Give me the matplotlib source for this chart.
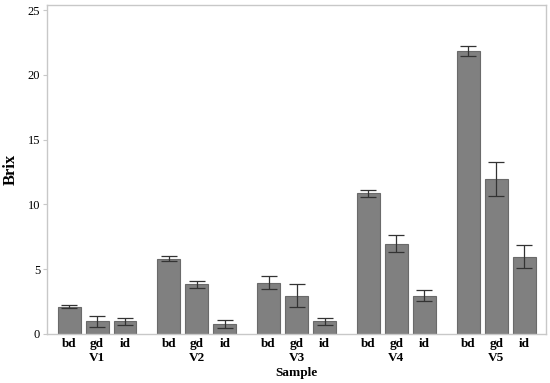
import numpy as np
import matplotlib

matplotlib.use("Agg")
import matplotlib.pyplot as plt

groups = ["V1", "V2", "V3", "V4", "V5"]
treatments = ["bd", "gd", "id"]
brix = [
    [2.12, 0.97, 0.97],
    [5.82, 3.85, 0.77],
    [3.97, 2.97, 0.97],
    [10.85, 6.97, 2.97],
    [21.85, 11.97, 5.97],
]
brix_err = [
    [0.08, 0.42, 0.26],
    [0.18, 0.27, 0.28],
    [0.50, 0.88, 0.24],
    [0.30, 0.65, 0.44],
    [0.42, 1.33, 0.90],
]

serif = ["Liberation Serif", "DejaVu Serif"]
plt.rcParams["font.family"] = serif

fig = plt.figure(figsize=(5.5, 3.83), dpi=100)
ax = fig.add_axes([0.0855, 0.128, 0.9075, 0.859])

step = 3.57
pos, vals, errs, labels = [], [], [], []
for g, (v, e) in enumerate(zip(brix, brix_err)):
    for t in range(3):
        pos.append(g * step + t)
        vals.append(v[t])
        errs.append(e[t])
        labels.append(treatments[t])
pos = np.array(pos)

ax.bar(pos, vals, width=0.82, color="#808080", edgecolor="#6a6a6a",
       linewidth=0.8, zorder=2)
ax.errorbar(pos, vals, yerr=errs, fmt="none", ecolor="#333333",
            elinewidth=0.9, capsize=5.5, capthick=0.9, zorder=3)

ax.set_xlim(pos[0] - 0.79, pos[-1] + 0.79)
ax.set_ylim(0, 25.4)
ax.set_yticks([0, 5, 10, 15, 20, 25])
ax.tick_params(axis="y", labelsize=9, length=3, color="#c8c8c8", pad=2)
ax.set_xticks(pos)
ax.set_xticklabels(labels, fontsize=9.5, fontweight="bold")
ax.tick_params(axis="x", length=0, pad=3)

# group names and axis title below the tick labels
for g, name in enumerate(groups):
    ax.text(g * step + 1, -0.056, name, transform=ax.get_xaxis_transform(),
            ha="center", va="top", fontsize=9.5, fontweight="bold")
ax.text(pos.mean(), -0.099, "Sample", transform=ax.get_xaxis_transform(),
        ha="center", va="top", fontsize=9.5, fontweight="bold")
ax.set_ylabel("Brix", fontsize=12, fontweight="bold", va="center")
ax.yaxis.set_label_coords(-0.073, 0.5)

for s in ax.spines.values():
    s.set_color("#c8c8c8")
    s.set_linewidth(1.0)

fig.savefig("out.png", dpi=100)
